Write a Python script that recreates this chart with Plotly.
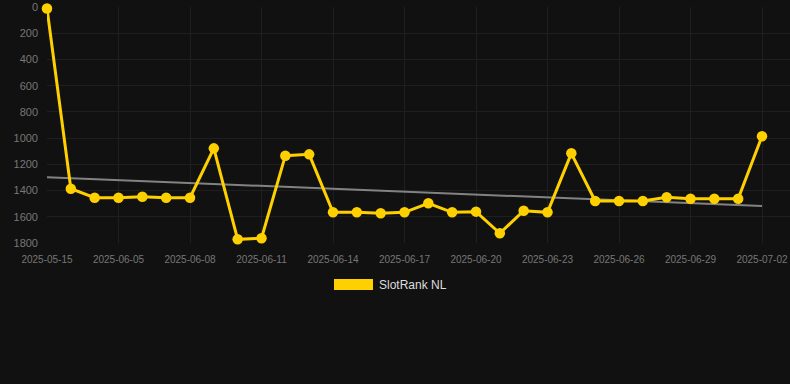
import numpy as np
import plotly.graph_objects as go

dates = ["2025-05-15", "2025-06-03", "2025-06-04", "2025-06-05", "2025-06-06", "2025-06-07",
         "2025-06-08", "2025-06-09", "2025-06-10", "2025-06-11", "2025-06-12", "2025-06-13",
         "2025-06-14", "2025-06-15", "2025-06-16", "2025-06-17", "2025-06-18", "2025-06-19",
         "2025-06-20", "2025-06-21", "2025-06-22", "2025-06-23", "2025-06-24", "2025-06-25",
         "2025-06-26", "2025-06-27", "2025-06-28", "2025-06-29", "2025-06-30", "2025-07-01",
         "2025-07-02"]
ranks = [12, 1386, 1455, 1455, 1447, 1455, 1455, 1078, 1772, 1764, 1134, 1124,
         1566, 1566, 1573, 1566, 1497, 1566, 1561, 1726, 1554, 1566, 1116, 1480,
         1480, 1480, 1451, 1462, 1462, 1462, 986]
series_name = "SlotRank NL"
y_ticks = [0, 200, 400, 600, 800, 1000, 1200, 1400, 1600, 1800]

W, H = 790, 384
L, R, T, B = 47, 0, 7, 141
pw = W - L - R
ph = H - T - B

idx = np.arange(len(dates))
slope, intercept = np.polyfit(idx, ranks, 1)
trend = slope * idx + intercept

step_px = 715 / 30.0
xmax = pw / step_px

tick_idx = list(range(0, len(dates), 3))

fig = go.Figure()
fig.add_trace(go.Scatter(
    x=[idx[0], idx[-1]], y=[trend[0], trend[-1]], mode="lines",
    line=dict(color="rgba(150,150,150,0.85)", width=2), hoverinfo="skip",
    showlegend=False, cliponaxis=False))
fig.add_trace(go.Scatter(
    x=idx, y=ranks, mode="lines+markers", name=series_name,
    line=dict(color="#FFD000", width=3),
    marker=dict(color="#FFD000", size=10.5),
    showlegend=False, cliponaxis=False))

# manual legend
def px_x(p):
    return (p - L) / pw

def px_y(p):
    return (H - B - p) / ph

fig.add_shape(type="rect", xref="paper", yref="paper",
              x0=px_x(334), x1=px_x(373), y0=px_y(290), y1=px_y(279),
              fillcolor="#FFD000", line=dict(width=0))
fig.add_annotation(xref="paper", yref="paper", x=px_x(377), y=px_y(284.5),
                   text=series_name, showarrow=False, xanchor="left", yanchor="middle",
                   font=dict(family="Liberation Sans, Arial", size=12, color="#dddddd"))

fig.update_layout(
    width=W, height=H,
    margin=dict(l=L, r=R, t=T, b=B),
    paper_bgcolor="#111111", plot_bgcolor="#111111",
    font=dict(family="Liberation Sans, Arial", color="#777777"),
    showlegend=False,
    xaxis=dict(range=[0, xmax], tickvals=tick_idx, ticktext=[dates[i] for i in tick_idx],
               showgrid=True, gridcolor="#1f1f1f", gridwidth=1, zeroline=False,
               showline=False, ticks="", tickfont=dict(size=10, color="#777777"),
               ticklabelstandoff=9),
    yaxis=dict(range=[1800, 0], tickvals=y_ticks, showgrid=True, gridcolor="#1f1f1f",
               gridwidth=1, zeroline=False, showline=False, ticks="",
               tickfont=dict(size=11, color="#777777"), ticklabelstandoff=8),
)

fig.write_html("out.html")
